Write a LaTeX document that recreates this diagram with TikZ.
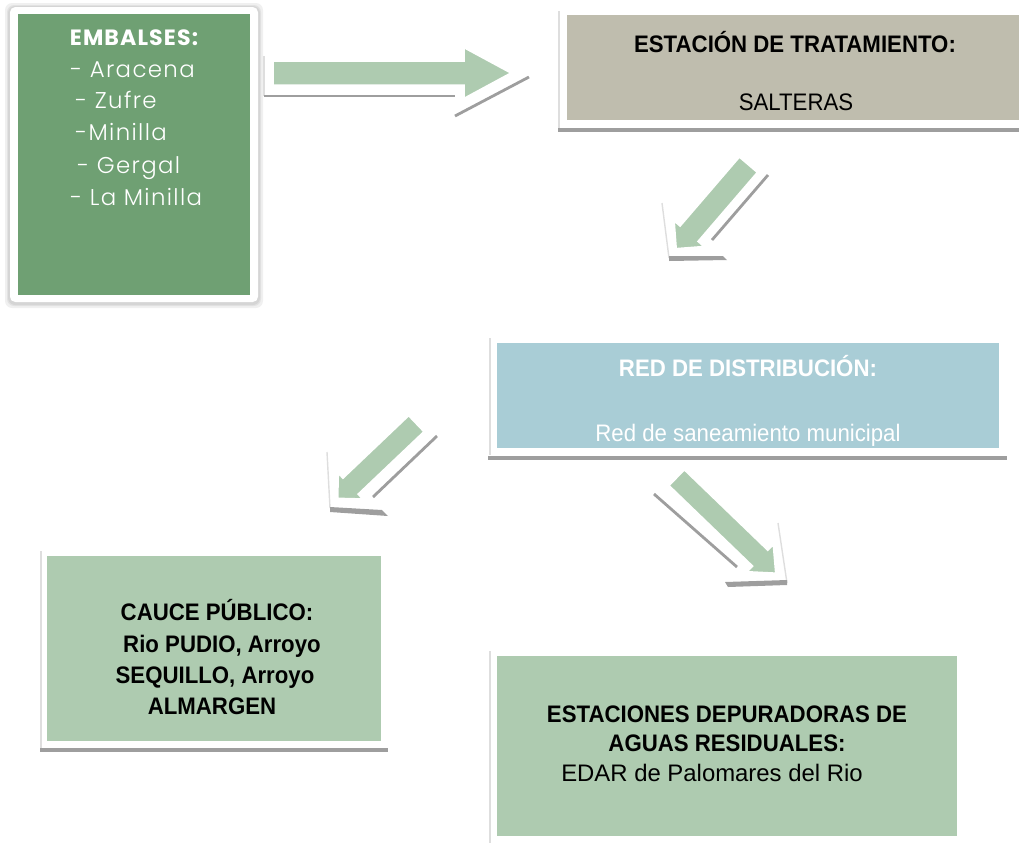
\documentclass[tikz,border=0pt]{standalone}
\usepackage{fontspec}
\setmainfont{Liberation Sans}
\newfontfamily\narrowfont{Liberation Sans}[FakeStretch=0.93]
\newfontfamily\gothicfont{Poppins}[UprightFont=* Light, BoldFont=* Bold, LetterSpace=6]
\newfontfamily\gothicbold{Poppins}[UprightFont=* Bold, LetterSpace=5]
\usetikzlibrary{fit}
\definecolor{embgreen}{RGB}{111,160,115}
\definecolor{lightgreen}{RGB}{174,203,176}
\definecolor{greige}{RGB}{191,189,174}
\definecolor{lightblue}{RGB}{169,205,214}
\definecolor{shadowgray}{RGB}{158,158,158}
\definecolor{faintgray}{RGB}{222,222,222}
\begin{document}
\begin{tikzpicture}[x=0.02cm,y=-0.02cm,
  fillbox/.style={inner sep=0pt, outer sep=0pt, draw=none},
  shadowbar/.style={fill=shadowgray, draw=none},
  softshadow/.style={fill=black, opacity=0.06, rounded corners=4pt},
  faintline/.style={draw=faintgray, line width=0.8pt},
  arrowbody/.style={fill=lightgreen, draw=white, line width=2pt, line join=miter},
  shadowline/.style={draw=shadowgray, line width=1.6pt},
  listtxt/.style={text=white, font=\gothicfont\fontsize{13pt}{15pt}\selectfont, inner sep=0pt},
  embtitle/.style={text=white, font=\gothicbold\fontsize{12.6pt}{15pt}\selectfont, inner sep=0pt},
  boldtxt/.style={font=\narrowfont\bfseries\fontsize{13.6pt}{16pt}\selectfont, inner sep=0pt},
  regtxt/.style={font=\narrowfont\fontsize{13.6pt}{16pt}\selectfont, inner sep=0pt},
  widetxt/.style={font=\fontsize{13.6pt}{16pt}\selectfont, inner sep=0pt}]
\useasboundingbox (0,0) rectangle (1019,843);

% ---------- EMBALSES ----------
\fill[softshadow] (5,3) rectangle (263,308);
\fill[softshadow] (7,5) rectangle (261,306);
\fill[softshadow] (8,6) rectangle (260,305);
\node[fit={(10,7) (258,302)}, fillbox, fill=white, rounded corners=3pt] (embframe) {};
\node[fit={(18,14) (250,295)}, fillbox, fill=embgreen] (emb) {};
\node[embtitle, anchor=base] (embt) at (134,45) {EMBALSES:};
\node[listtxt, anchor=base west] (e1) at (70,77) {- Aracena};
\node[listtxt, anchor=base west] (e2) at (75,108) {- Zufre};
\node[listtxt, anchor=base west] (e3) at (75,140) {-Minilla};
\node[listtxt, anchor=base west] (e4) at (77,173) {- Gergal};
\node[listtxt, anchor=base west] (e5) at (70,205) {- La Minilla};

% ---------- ESTACION DE TRATAMIENTO ----------
\draw[faintline] (559,11) -- (559,128);
\fill[shadowbar] (558,128) rectangle (1019,132);
\node[fit={(567,15) (1019,120)}, fillbox, fill=greige] (trat) {};
\node[boldtxt, anchor=base] (tratt) at (795,52) {ESTACIÓN DE TRATAMIENTO:};
\node[regtxt, anchor=base] (trats) at (796,110) {SALTERAS};

% ---------- RED DE DISTRIBUCION ----------
\draw[faintline] (490,338) -- (490,455);
\fill[shadowbar] (488,456) rectangle (1007,460);
\node[fit={(497,343) (999,448)}, fillbox, fill=lightblue] (red) {};
\node[boldtxt, text=white, anchor=base] (redt) at (748,376) {RED DE DISTRIBUCIÓN:};
\begin{scope}
  \clip (497,343) rectangle (999,448);
  \node[regtxt, text=white, anchor=base] (reds) at (748,441) {Red de saneamiento municipal};
\end{scope}

% ---------- CAUCE PUBLICO ----------
\draw[faintline] (41,551) -- (41,748);
\fill[shadowbar] (40,748) rectangle (388,752);
\node[fit={(47,556) (381,741)}, fillbox, fill=lightgreen] (cauce) {};
\node[boldtxt, anchor=base] (c1) at (217,620) {CAUCE PÚBLICO:};
\node[boldtxt, anchor=base] (c2) at (222,652) {Rio PUDIO, Arroyo};
\node[boldtxt, anchor=base] (c3) at (215,683) {SEQUILLO, Arroyo};
\node[boldtxt, anchor=base] (c4) at (212,714) {ALMARGEN};

% ---------- EDAR ----------
\draw[faintline] (490,651) -- (490,843);
\node[fit={(497,656) (957,836)}, fillbox, fill=lightgreen] (edar) {};
\node[boldtxt, anchor=base] (d1) at (727,722) {ESTACIONES DEPURADORAS DE};
\node[boldtxt, anchor=base] (d2) at (727,751) {AGUAS RESIDUALES:};
\node[widetxt, anchor=base] (d3) at (712,781) {EDAR de Palomares del Rio};

% ---------- Arrow 1 (right) ----------
\draw[faintline] (264,56) -- (264,96);
\draw[shadowline] (264,96) -- (455,96);
\draw[shadowline] (455,116) -- (529,77);
\draw[arrowbody] (272,60) -- (463,60) -- (463,46) -- (513,73) -- (463,100) -- (463,86) -- (272,86) -- cycle;

% ---------- Arrow 2 (down-left) ----------
\draw[faintline] (662,203) -- (669,258);
\draw[shadowline] (768,175) -- (712,240);
\fill[shadowgray] (669,256) -- (723,256) -- (727,260) -- (669,261) -- cycle;
\draw[arrowbody] (739.3,155.7) -- (758.7,172.3) -- (699.4,241.3) -- (706.4,247.3) -- (675.3,249.7) -- (673,218.7) -- (680,224.7) -- cycle;

% ---------- Arrow 3 (down-left) ----------
\draw[faintline] (327,452) -- (330,508);
\draw[shadowline] (437,436) -- (373,497);
\fill[shadowgray] (330,507) -- (382,510) -- (388,516) -- (330,512) -- cycle;
\draw[arrowbody] (408.7,414.3) -- (425.3,431.7) -- (359.5,494.2) -- (365,500) -- (336.7,499.3) -- (337.4,471) -- (343,476.8) -- cycle;

% ---------- Arrow 4 (down-right) ----------
\draw[faintline] (778,523) -- (787,583);
\draw[shadowline] (654,494) -- (737,567);
\fill[shadowgray] (725,582) -- (787,580) -- (787,585) -- (728,587) -- cycle;
\draw[arrowbody] (667.7,485.6) -- (684.3,468.4) -- (767.8,548.9) -- (774.1,542.4) -- (776.8,574.2) -- (744.9,572.6) -- (751.2,566.1) -- cycle;
\end{tikzpicture}
\end{document}
